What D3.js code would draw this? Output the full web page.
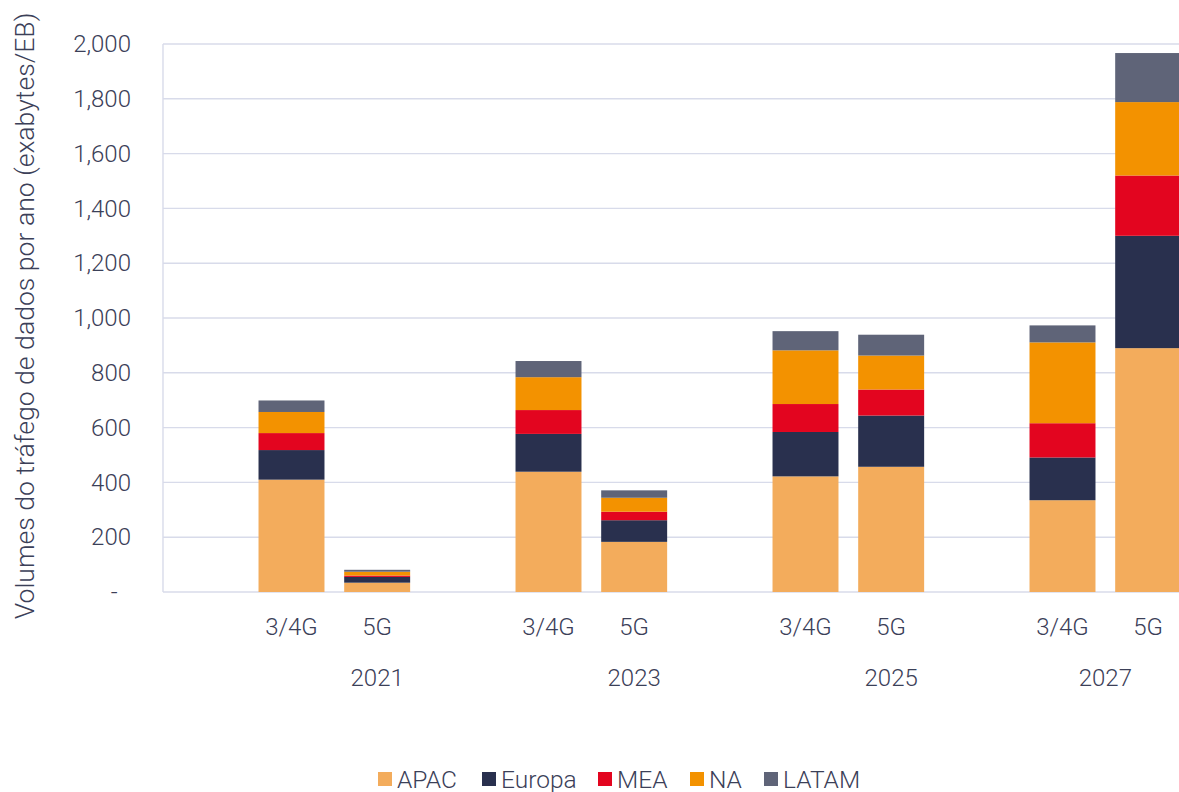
<!DOCTYPE html>
<html>
<head>
<meta charset="utf-8">
<script src="https://cdn.jsdelivr.net/npm/d3@7"></script>
<style>
  html, body { margin: 0; padding: 0; background: #fff; }
  svg { display: block; font-family: Roboto, "Noto Sans", sans-serif; font-weight: 300; }
</style>
</head>
<body>
<svg id="chart" width="1179" height="792"></svg>
<script>
// Years and network technologies on the two-level category axis
const years = ["2021", "2023", "2025", "2027"];
const techs = ["3/4G", "5G"];

// Regions, stacked bottom to top
const regions = ["APAC", "Europa", "MEA", "NA", "LATAM"];
const regionColors = ["#F3AC5C", "#29304E", "#E3051F", "#F39200", "#5F6478"];

// Yearly traffic per region, exabytes; order: 2021 3/4G, 2021 5G, 2023 3/4G, 2023 5G, ...
const apac   = [410, 34, 439, 183, 422, 457, 335, 890];
const europa = [108, 21, 138,  79, 162, 187, 156, 410];
const mea    = [ 62,  5,  87,  31, 102,  95, 125, 220];
const na     = [ 77, 14, 120,  51, 196, 124, 295, 268];
const latam  = [ 42,  7,  59,  27,  70,  76,  62, 179];

const yTicks = [0, 200, 400, 600, 800, 1000, 1200, 1400, 1600, 1800, 2000];

const seriesValues = { APAC: apac, Europa: europa, MEA: mea, NA: na, LATAM: latam };

// One row per bar
const rows = [];
years.forEach((yr, i) => {
  techs.forEach((t, j) => {
    const idx = i * techs.length + j;
    const r = { key: yr + "|" + t, year: yr, tech: t };
    regions.forEach(reg => { r[reg] = seriesValues[reg][idx]; });
    rows.push(r);
  });
});

// Each year is preceded by an empty slot
const slots = [];
years.forEach(yr => {
  slots.push("gap|" + yr);
  techs.forEach(t => slots.push(yr + "|" + t));
});

const svg = d3.select("#chart");
const plotLeft = 163, plotRight = 1191, plotTop = 44, plotBottom = 592;

const x = d3.scaleBand().domain(slots).range([plotLeft, plotRight])
  .paddingInner(0.23).paddingOuter(0.115);
const y = d3.scaleLinear().domain([0, 2000]).range([plotBottom, plotTop]);

const step = x.step();
const slotStart = k => x(k) - (step - x.bandwidth()) / 2;

const textColor = "#3B4058";
const gridColor = "#D8DBEA";

// Horizontal gridlines
svg.append("g")
  .selectAll("line")
  .data(yTicks)
  .join("line")
  .attr("x1", plotLeft).attr("x2", plotRight)
  .attr("y1", d => y(d)).attr("y2", d => y(d))
  .attr("stroke", gridColor).attr("stroke-width", 1.4);

// Vertical axis line
svg.append("line")
  .attr("x1", plotLeft).attr("x2", plotLeft)
  .attr("y1", y(2000)).attr("y2", y(0))
  .attr("stroke", gridColor).attr("stroke-width", 1.4);

// Y axis labels
const fmt = d3.format(",");
const yAxis = d3.axisLeft(y).tickValues(yTicks).tickSize(0).tickPadding(32)
  .tickFormat(d => d === 0 ? "-\u2007" : fmt(d));
const yg = svg.append("g").attr("transform", `translate(${plotLeft},0)`).call(yAxis);
yg.select(".domain").remove();
yg.selectAll("text")
  .attr("fill", textColor)
  .style("font-size", "24px")
  .style("font-family", "Roboto, sans-serif")
  .style("font-weight", 300);

// Y axis title
svg.append("text")
  .attr("transform", `translate(34,${(plotTop + plotBottom) / 2 - 2}) rotate(-90)`)
  .attr("text-anchor", "middle")
  .attr("fill", textColor)
  .style("font-size", "26.6px")
  .text("Volumes do tráfego de dados por ano (exabytes/EB)");

// Stacked bars
const stack = d3.stack().keys(regions);
const stacked = stack(rows);
const color = d3.scaleOrdinal().domain(regions).range(regionColors);

svg.append("g")
  .selectAll("g")
  .data(stacked)
  .join("g")
  .attr("fill", d => color(d.key))
  .selectAll("rect")
  .data(d => d)
  .join("rect")
  .attr("x", d => x(d.data.key))
  .attr("width", x.bandwidth())
  .attr("y", d => y(d[1]))
  .attr("height", d => y(d[0]) - y(d[1]));

// Technology labels
svg.append("g")
  .selectAll("text")
  .data(rows)
  .join("text")
  .attr("x", d => x(d.key) + x.bandwidth() / 2)
  .attr("y", 635)
  .attr("text-anchor", "middle")
  .attr("fill", textColor)
  .style("font-size", "24px")
  .text(d => d.tech);

// Year labels, centred on the span from a year's first bar slot to the next year's
svg.append("g")
  .selectAll("text")
  .data(years)
  .join("text")
  .attr("x", (yr, i) => {
    const s = slotStart(yr + "|" + techs[0]);
    const e = i < years.length - 1 ? slotStart(years[i + 1] + "|" + techs[0]) : plotRight;
    return (s + e) / 2;
  })
  .attr("y", 686)
  .attr("text-anchor", "middle")
  .attr("fill", textColor)
  .style("font-size", "24px")
  .text(d => d);

// Legend
const legendX = [378, 482, 598, 690, 764];
const lg = svg.append("g")
  .selectAll("g")
  .data(regions)
  .join("g")
  .attr("transform", (d, i) => `translate(${legendX[i]},772)`);
lg.append("rect")
  .attr("width", 14).attr("height", 14)
  .attr("fill", d => color(d));
lg.append("text")
  .attr("x", 19).attr("y", 16)
  .attr("fill", textColor)
  .style("font-size", "24.5px")
  .text(d => d);
</script>
</body>
</html>
